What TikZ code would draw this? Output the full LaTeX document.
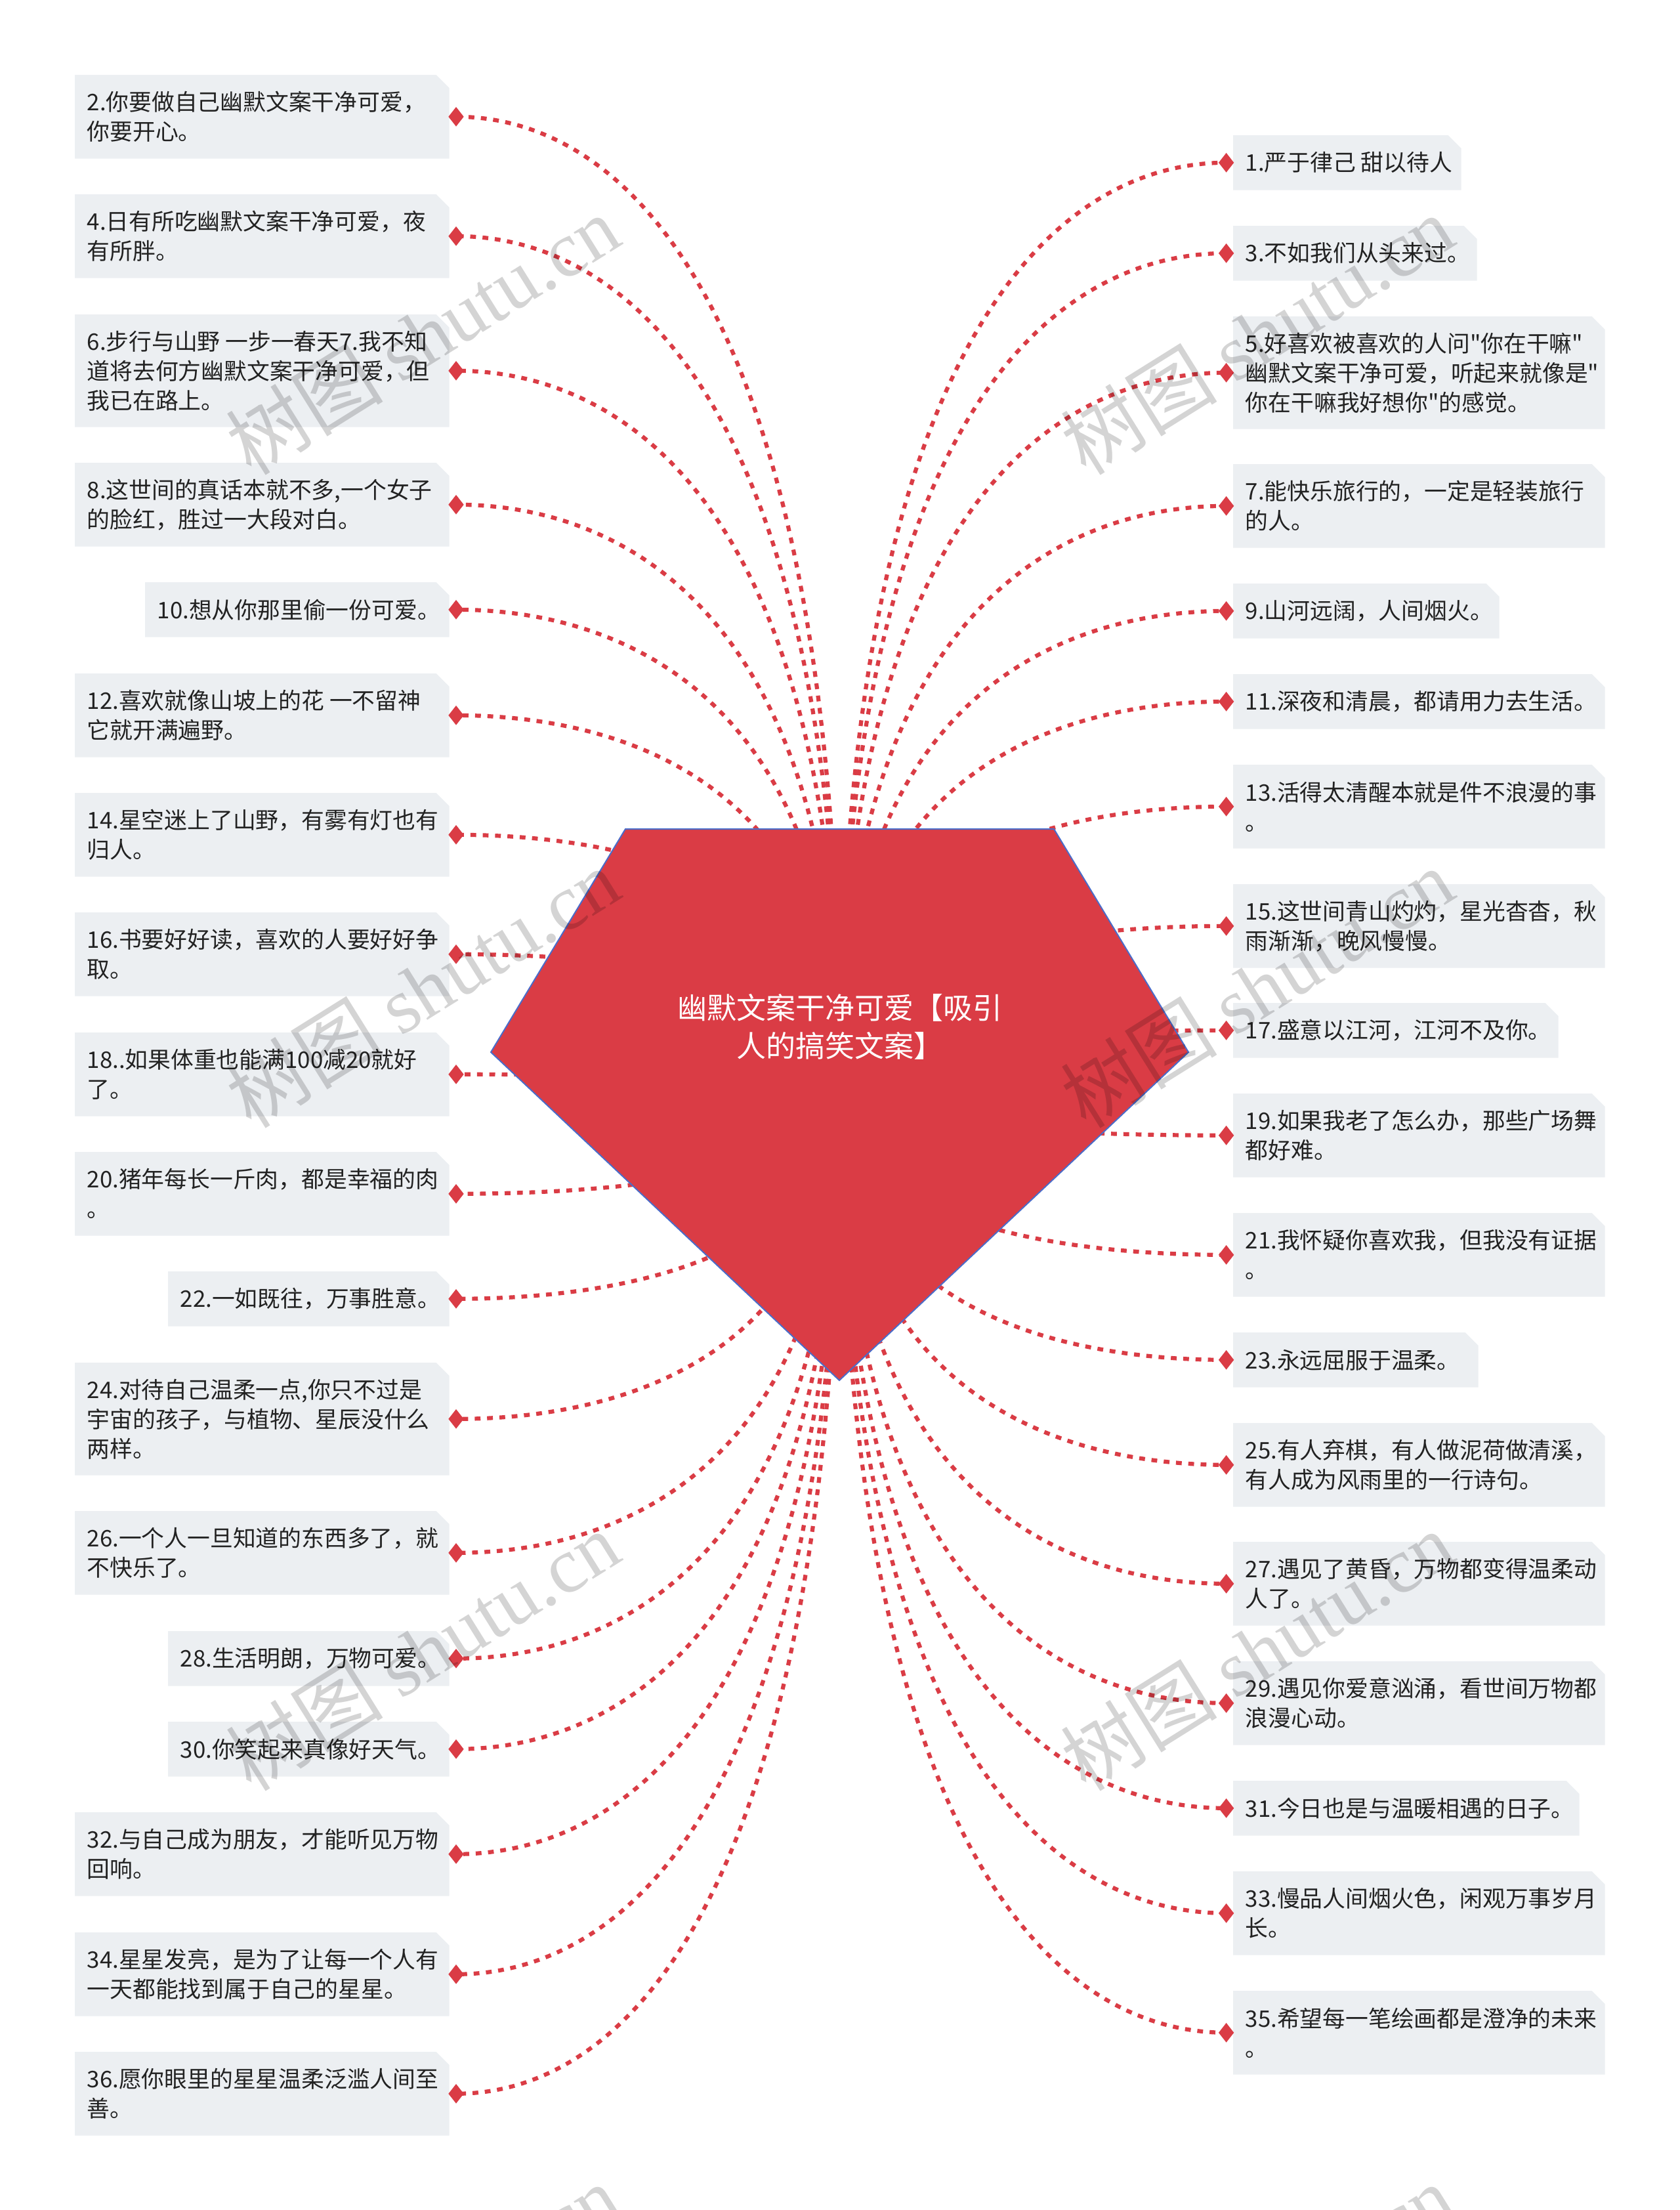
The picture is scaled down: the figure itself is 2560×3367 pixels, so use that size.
\documentclass[tikz,border=0pt]{standalone}
\usepackage{fontspec}
\newfontfamily\cjkfont{Noto Sans CJK SC}
\newfontfamily\wmfont{Liberation Serif}
\usetikzlibrary{shapes.geometric,calc}
\definecolor{redA}{HTML}{DA3C45}
\definecolor{boxbg}{HTML}{ECEFF2}
\definecolor{edgeblue}{HTML}{4A6CC9}
\definecolor{txt}{HTML}{222222}
\pgfdeclarelayer{back}
\pgfdeclarelayer{bg}
\pgfdeclarelayer{fg}
\pgfsetlayers{back,bg,main,fg}
\tikzset{
  boxnode/.style={rectangle, inner sep=0pt, draw=none},
  itemtext/.style={inner sep=0pt, align=left, text=txt, font=\cjkfont\fontsize{8.7pt}{11.25pt}\selectfont},
  marker/.style={diamond, fill=redA, inner sep=0pt, minimum width=6pt, minimum height=7.6pt},
  conn/.style={draw=redA, line width=1.55pt, dash pattern=on 2.2pt off 2.5pt},
  roottext/.style={inner sep=0pt, align=center, text=white, font=\cjkfont\fontsize{11.25pt}{14.5pt}\selectfont},
  wm/.style={inner sep=0pt, text=black, text opacity=0.17, font=\cjkfont\fontsize{30pt}{30pt}\selectfont},
}
\newcommand\itemL[5]{%
  \node[boxnode, minimum width={(683-#2)*0.25pt}, minimum height={#4*0.25pt}, anchor=north west] (b#1) at (#2,#3) {};
  \node[itemtext, anchor=west] (t#1) at ([xshift=4.5pt]b#1.west) {#5};
  \node[marker] (d#1) at ([xshift=2.6pt]b#1.east) {};
  \begin{pgfonlayer}{bg}
    \fill[boxbg] (b#1.south west) -- (b#1.north west) -- ([xshift=-5pt]b#1.north east) -- ([yshift=-5pt]b#1.north east) -- (b#1.south east) -- cycle;
    \draw[conn] (hub) .. controls ($(hub)!0.8!(hub |- d#1)$) and ($(d#1)!0.45!(hub |- d#1)$) .. (d#1.center);
  \end{pgfonlayer}
}
\newcommand\itemR[5]{%
  \node[boxnode, minimum width={(#2-1879)*0.25pt}, minimum height={#4*0.25pt}, anchor=north west] (b#1) at (1879,#3) {};
  \node[itemtext, anchor=west] (t#1) at ([xshift=4.5pt]b#1.west) {#5};
  \node[marker] (d#1) at ([xshift=-2.6pt]b#1.west) {};
  \begin{pgfonlayer}{bg}
    \fill[boxbg] (b#1.south west) -- (b#1.north west) -- ([xshift=-5pt]b#1.north east) -- ([yshift=-5pt]b#1.north east) -- (b#1.south east) -- cycle;
    \draw[conn] (hub) .. controls ($(hub)!0.8!(hub |- d#1)$) and ($(d#1)!0.45!(hub |- d#1)$) .. (d#1.center);
  \end{pgfonlayer}
}
\begin{document}
\begin{tikzpicture}[x=0.25pt,y=-0.25pt]
\begin{pgfonlayer}{back}
\fill[white] (0,0) rectangle (2560,3367);
\end{pgfonlayer}
\useasboundingbox (0,0) rectangle (2560,3367);
\coordinate (hub) at (1280,1650);

% central pentagon
\path[fill=redA, draw=edgeblue, line width=0.5pt] (953,1263) -- (1606,1263) -- (1811,1603) -- (1279,2103) -- (748,1603) -- cycle;
\node[roottext] (root) at (1280,1564) {幽默文案干净可爱【吸引\\人的搞笑文案】};

% left column
\itemL{2}{114}{114}{126}{2.你要做自己幽默文案干净可爱，\\你要开心。}
\itemL{4}{114}{296}{126}{4.日有所吃幽默文案干净可爱，夜\\有所胖。}
\itemL{6}{114}{479}{170}{6.步行与山野 一步一春天7.我不知\\道将去何方幽默文案干净可爱，但\\我已在路上。}
\itemL{8}{114}{705}{126}{8.这世间的真话本就不多,一个女子\\的脸红，胜过一大段对白。}
\itemL{10}{221}{887}{82}{10.想从你那里偷一份可爱。}
\itemL{12}{114}{1026}{126}{12.喜欢就像山坡上的花 一不留神\\它就开满遍野。}
\itemL{14}{114}{1208}{126}{14.星空迷上了山野，有雾有灯也有\\归人。}
\itemL{16}{114}{1390}{126}{16.书要好好读，喜欢的人要好好争\\取。}
\itemL{18}{114}{1573}{126}{18..如果体重也能满100减20就好\\了。}
\itemL{20}{114}{1755}{126}{20.猪年每长一斤肉，都是幸福的肉\\。}
\itemL{22}{256}{1937}{82}{22.一如既往，万事胜意。}
\itemL{24}{114}{2076}{170}{24.对待自己温柔一点,你只不过是\\宇宙的孩子，与植物、星辰没什么\\两样。}
\itemL{26}{114}{2302}{126}{26.一个人一旦知道的东西多了，就\\不快乐了。}
\itemL{28}{256}{2485}{82}{28.生活明朗，万物可爱。}
\itemL{30}{256}{2623}{82}{30.你笑起来真像好天气。}
\itemL{32}{114}{2761}{126}{32.与自己成为朋友，才能听见万物\\回响。}
\itemL{34}{114}{2944}{126}{34.星星发亮，是为了让每一个人有\\一天都能找到属于自己的星星。}
\itemL{36}{114}{3126}{126}{36.愿你眼里的星星温柔泛滥人间至\\善。}

% right column
\itemR{1}{2225}{206}{82}{1.严于律己 甜以待人}
\itemR{3}{2249}{344}{82}{3.不如我们从头来过。}
\itemR{5}{2444}{482}{170}{5.好喜欢被喜欢的人问"你在干嘛"\\幽默文案干净可爱，听起来就像是"\\你在干嘛我好想你"的感觉。}
\itemR{7}{2444}{707}{126}{7.能快乐旅行的，一定是轻装旅行\\的人。}
\itemR{9}{2283}{889}{82}{9.山河远阔，人间烟火。}
\itemR{11}{2444}{1027}{82}{11.深夜和清晨，都请用力去生活。}
\itemR{13}{2444}{1165}{126}{13.活得太清醒本就是件不浪漫的事\\。}
\itemR{15}{2444}{1347}{126}{15.这世间青山灼灼，星光杳杳，秋\\雨渐渐，晚风慢慢。}
\itemR{17}{2373}{1528}{82}{17.盛意以江河，江河不及你。}
\itemR{19}{2444}{1666}{126}{19.如果我老了怎么办，那些广场舞\\都好难。}
\itemR{21}{2444}{1848}{126}{21.我怀疑你喜欢我，但我没有证据\\。}
\itemR{23}{2251}{2030}{82}{23.永远屈服于温柔。}
\itemR{25}{2444}{2168}{126}{25.有人弃棋，有人做泥荷做清溪，\\有人成为风雨里的一行诗句。}
\itemR{27}{2444}{2349}{126}{27.遇见了黄昏，万物都变得温柔动\\人了。}
\itemR{29}{2444}{2531}{126}{29.遇见你爱意汹涌，看世间万物都\\浪漫心动。}
\itemR{31}{2405}{2713}{82}{31.今日也是与温暖相遇的日子。}
\itemR{33}{2444}{2851}{126}{33.慢品人间烟火色，闲观万事岁月\\长。}
\itemR{35}{2444}{3033}{126}{35.希望每一笔绘画都是澄净的未来\\。}

% watermarks
\begin{pgfonlayer}{fg}
\node[wm, rotate=32] (wm1) at (644,510) {树图 {\wmfont shutu.cn}};
\node[wm, rotate=32] (wm2) at (644,1505) {树图 {\wmfont shutu.cn}};
\node[wm, rotate=32] (wm3) at (644,2515) {树图 {\wmfont shutu.cn}};
\node[wm, rotate=32] (wm4) at (644,3510) {树图 {\wmfont shutu.cn}};
\node[wm, rotate=32] (wm5) at (1915,510) {树图 {\wmfont shutu.cn}};
\node[wm, rotate=32] (wm6) at (1915,1505) {树图 {\wmfont shutu.cn}};
\node[wm, rotate=32] (wm7) at (1915,2515) {树图 {\wmfont shutu.cn}};
\node[wm, rotate=32] (wm8) at (1915,3510) {树图 {\wmfont shutu.cn}};
\end{pgfonlayer}
\end{tikzpicture}
\end{document}
